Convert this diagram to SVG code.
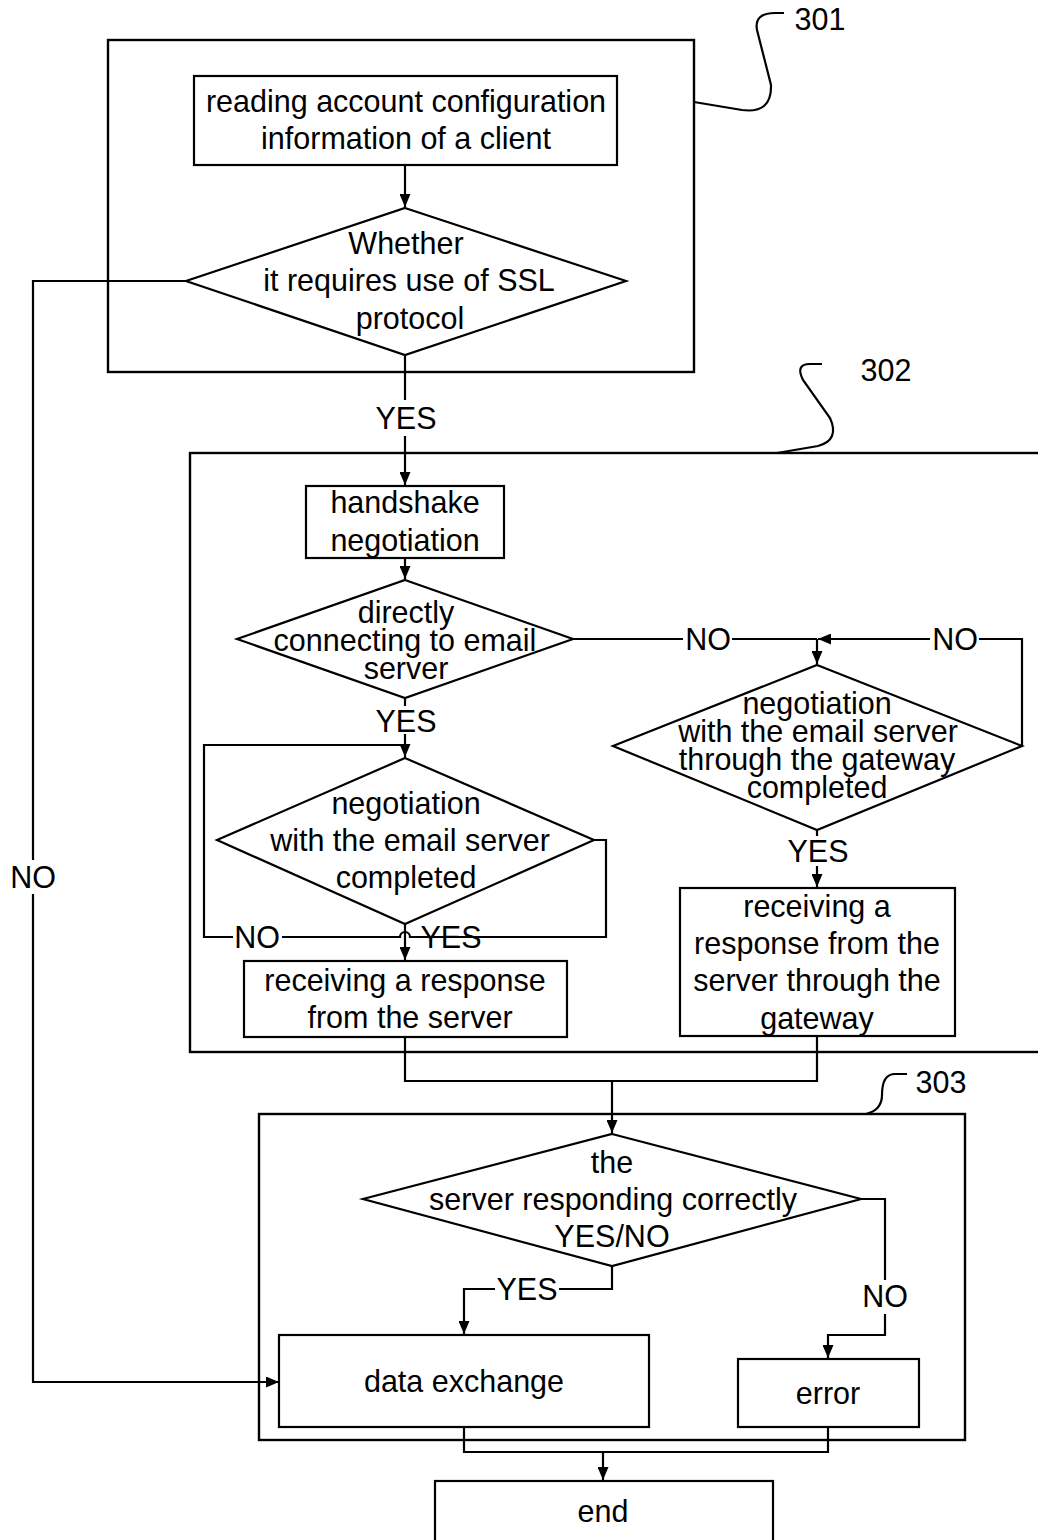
<svg xmlns="http://www.w3.org/2000/svg" width="1038" height="1540" viewBox="0 0 1038 1540">
<style>
.box{fill:none;stroke:#000;stroke-width:2.4}
.nd{fill:#fff;stroke:#000;stroke-width:2.2}
.ln{fill:none;stroke:#000;stroke-width:2.2}
.ar{fill:none;stroke:#000;stroke-width:2.2;marker-end:url(#ah)}
text{font-family:"Liberation Sans",Arial,sans-serif;font-size:30.5px;fill:#000;text-anchor:middle}
.bg{fill:#fff;stroke:none}
</style>
<defs>
<marker id="ah" viewBox="0 0 13 11" refX="13" refY="5.5" markerWidth="13" markerHeight="11" markerUnits="userSpaceOnUse" orient="auto">
<path d="M0,0 L13,5.5 L0,11 z" fill="#000"/>
</marker>
</defs>
<rect x="0" y="0" width="1038" height="1540" fill="#fff"/>

<g id="containers">
<rect id="c301" class="box" x="108" y="40" width="586" height="332"/>
<rect id="c302" class="box" x="190" y="453" width="870" height="599"/>
<rect id="c303" class="box" x="259" y="1114" width="706" height="326"/>
<path class="ln" d="M694,102 L742,110 Q772,114 771,85 L757,30 Q754,13 775,13 L784,13"/>
<path class="ln" d="M777,453 L818,446 Q840,440 830,418 L803,380 Q795,364 810,364 L822,364"/>
<path class="ln" d="M866,1114 Q882,1110 882,1095 Q882,1074 895,1074 L907,1074"/>
<text x="820" y="30">301</text>
<text x="886" y="381">302</text>
<text x="941" y="1093">303</text>
</g>

<g id="connectors">
<path class="ar" d="M405,165 L405,207"/>
<path class="ln" d="M405,355 L405,400"/>
<path class="ar" d="M405,436 L405,485"/>
<path class="ar" d="M186,281 L33,281 L33,1382 L279,1382"/>
<path class="ar" d="M405,558 L405,579"/>
<path class="ln" d="M405,698 L405,706"/>
<path class="ar" d="M405,734 L405,757"/>
<path class="ln" d="M594,840 L606,840 L606,937 L410,937 A5,5 0 0 0 400,937 L204,937 L204,745 L405,745"/>
<path class="ar" d="M405,924 L405,960"/>
<path class="ln" d="M573,639 L817,639"/>
<path class="ar" d="M1022,746 L1022,639 L818,639"/>
<path class="ar" d="M817,639 L817,664"/>
<path class="ln" d="M817,830 L817,836"/>
<path class="ar" d="M817,866 L817,887"/>
<path class="ln" d="M405,1037 L405,1081 L817,1081 L817,1036"/>
<path class="ar" d="M612,1081 L612,1133"/>
<path class="ar" d="M612,1266 L612,1289 L464,1289 L464,1334"/>
<path class="ar" d="M861,1199 L885,1199 L885,1335 L828,1335 L828,1358"/>
<path class="ln" d="M464,1427 L464,1452 L828,1452 L828,1427"/>
<path class="ar" d="M603,1452 L603,1480"/>
<rect class="bg" x="8" y="860" width="50" height="34"/>
<text x="33" y="888">NO</text>
<text x="406" y="429">YES</text>
<text x="406" y="732">YES</text>
<rect class="bg" x="233" y="922" width="49" height="30"/>
<text x="257" y="948">NO</text>
<text x="451" y="948">YES</text>
<rect class="bg" x="683" y="624" width="49" height="30"/>
<text x="708" y="650">NO</text>
<rect class="bg" x="930" y="624" width="49" height="30"/>
<text x="955" y="650">NO</text>
<text x="818" y="862">YES</text>
<rect class="bg" x="495" y="1274" width="64" height="30"/>
<text x="527" y="1300">YES</text>
<rect class="bg" x="860" y="1280" width="50" height="34"/>
<text x="885" y="1307">NO</text>
</g>

<g id="n1">
<rect class="nd" x="194" y="76" width="423" height="89"/>
<text x="406" y="112">reading account configuration</text>
<text x="406" y="149">information of a client</text>
</g>
<g id="n2">
<polygon class="nd" points="405,208 626,281 405,355 186,281"/>
<text x="406" y="254">Whether</text>
<text x="409" y="291">it requires use of SSL</text>
<text x="410" y="329">protocol</text>
</g>
<g id="n3">
<rect class="nd" x="306" y="486" width="198" height="72"/>
<text x="405" y="513">handshake</text>
<text x="405" y="551">negotiation</text>
</g>
<g id="n4">
<polygon class="nd" points="405,580 573,639 405,698 237,639"/>
<text x="406" y="623">directly</text>
<text x="405" y="651">connecting to email</text>
<text x="406" y="679">server</text>
</g>
<g id="n5">
<polygon class="nd" points="405,758 594,840 405,924 217,840"/>
<text x="406" y="814">negotiation</text>
<text x="410" y="851">with the email server</text>
<text x="406" y="888">completed</text>
</g>
<g id="n6">
<rect class="nd" x="244" y="961" width="323" height="76"/>
<text x="405" y="991">receiving a response</text>
<text x="410" y="1028">from the server</text>
</g>
<g id="n7">
<polygon class="nd" points="817,665 1022,746 817,830 613,746"/>
<text x="817" y="714">negotiation</text>
<text x="818" y="742">with the email server</text>
<text x="817" y="770">through the gateway</text>
<text x="817" y="798">completed</text>
</g>
<g id="n8">
<rect class="nd" x="680" y="888" width="275" height="148"/>
<text x="817" y="917">receiving a</text>
<text x="817" y="954">response from the</text>
<text x="817" y="991">server through the</text>
<text x="817" y="1029">gateway</text>
</g>
<g id="n9">
<polygon class="nd" points="612,1134 861,1199 612,1266 363,1199"/>
<text x="612" y="1173">the</text>
<text x="613" y="1210">server responding correctly</text>
<text x="612" y="1247">YES/NO</text>
</g>
<g id="n10">
<rect class="nd" x="279" y="1335" width="370" height="92"/>
<text x="464" y="1392">data exchange</text>
</g>
<g id="n11">
<rect class="nd" x="738" y="1359" width="181" height="68"/>
<text x="828" y="1404">error</text>
</g>
<g id="n12">
<rect class="nd" x="435" y="1481" width="338" height="80"/>
<text x="603" y="1522">end</text>
</g>
</svg>
